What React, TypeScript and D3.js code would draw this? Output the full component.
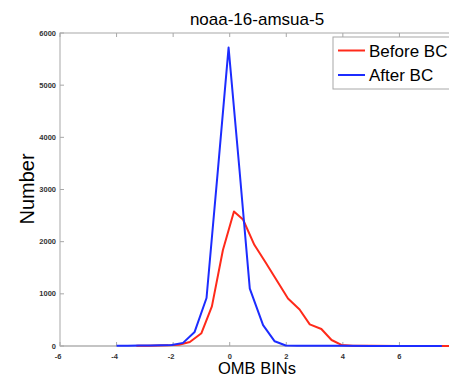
import React from "react";
import * as d3 from "d3";

const xTicks = [-6, -4, -2, 0, 2, 4, 6, 8];
const xTickLabels = [-6, -4, -2, 0, 2, 4, 6];
const yTicks = [0, 1000, 2000, 3000, 4000, 5000, 6000];

const afterX = [-4.0, -3.6, -3.2, -2.8, -2.45, -2.05, -1.65, -1.24, -0.82, -0.43, -0.04, 0.35, 0.71, 1.18, 1.59, 1.98, 2.4, 3.2, 4.0, 5.0, 6.0, 7.5];
const afterY = [5, 5, 8, 10, 15, 20, 60, 270, 920, 3300, 5720, 3350, 1100, 400, 90, 10, 5, 3, 3, 2, 2, 2];

const beforeX = [-3.3, -2.9, -2.55, -2.18, -1.8, -1.41, -1.0, -0.63, -0.24, 0.15, 0.47, 0.87, 1.27, 1.66, 2.06, 2.47, 2.83, 3.24, 3.6, 3.95, 4.35, 5.0, 6.0, 7.0, 8.0];
const beforeY = [3, 5, 8, 12, 25, 77, 245, 760, 1840, 2580, 2425, 1940, 1600, 1260, 910, 700, 415, 325, 115, 20, 5, 3, 2, 2, 2];

const W = 449;
const H = 378;
const left = 60;
const right = 456;
const top = 33;
const bottom = 346;

export default function App() {
  const x = d3.scaleLinear().domain([-6, 8]).range([left, right]);
  const y = d3.scaleLinear().domain([0, 6000]).range([bottom, top]);
  const line = d3
    .line<[number, number]>()
    .x((d) => x(d[0]))
    .y((d) => y(d[1]));
  const before = beforeX.map((v, i) => [v, beforeY[i]] as [number, number]);
  const after = afterX.map((v, i) => [v, afterY[i]] as [number, number]);
  const font = "'Liberation Sans', Arial, Helvetica, sans-serif";

  return (
    <svg
      width={W}
      height={H}
      style={{ position: "absolute", left: 0, top: 0, background: "#fff" }}
      fontFamily={font}
    >
      <rect x={0} y={0} width={W} height={H} fill="#fff" />
      {/* frame */}
      <rect x={left} y={top} width={right - left} height={bottom - top} fill="none" stroke="#a8a8a8" strokeWidth={1} />
      <line x1={left} x2={right} y1={bottom} y2={bottom} stroke="#c4c4c4" strokeWidth={2} />
      {/* ticks */}
      {xTicks.map((t) => (
        <g key={"x" + t}>
          <line x1={x(t)} x2={x(t)} y1={bottom} y2={bottom - 4} stroke="#a8a8a8" />
          <line x1={x(t)} x2={x(t)} y1={top} y2={top + 4} stroke="#a8a8a8" />
        </g>
      ))}
      {xTickLabels.map((t) => (
        <text key={"xl" + t} x={x(t) - (t < 0 ? 2 : 0)} y={358.5} textAnchor="middle" fontSize={7.5} fontWeight="bold" fill="#333">
          {t}
        </text>
      ))}
      {yTicks.map((t) => (
        <g key={"y" + t}>
          <line x1={left} x2={left + 4} y1={y(t)} y2={y(t)} stroke="#a8a8a8" />
          <text x={56} y={y(t) + 2.5} textAnchor="end" fontSize={7.5} fontWeight="bold" fill="#333">
            {t}
          </text>
        </g>
      ))}
      {/* lines */}
      <path d={line(before) || ""} fill="none" stroke="#ff2a1a" strokeWidth={2} strokeLinejoin="round" />
      <path d={line(after) || ""} fill="none" stroke="#1c2cff" strokeWidth={2} strokeLinejoin="round" />
      {/* title and labels */}
      <text x={257} y={25} textAnchor="middle" fontSize={17} fill="#000">
        noaa-16-amsua-5
      </text>
      <text x={257} y={374} textAnchor="middle" fontSize={16.5} fill="#000">
        OMB BINs
      </text>
      <text transform={`translate(33.5,189) rotate(-90)`} textAnchor="middle" fontSize={20} fill="#000">
        Number
      </text>
      {/* legend */}
      <rect x={333} y={37} width={140} height={52} fill="#fff" stroke="#a8a8a8" />
      <line x1={338} x2={365} y1={50.5} y2={50.5} stroke="#ff2a1a" strokeWidth={2} />
      <line x1={338} x2={365} y1={75} y2={75} stroke="#1c2cff" strokeWidth={2} />
      <text x={369} y={56.5} fontSize={17} fill="#000">
        Before BC
      </text>
      <text x={369} y={81} fontSize={17} fill="#000">
        After BC
      </text>
    </svg>
  );
}
